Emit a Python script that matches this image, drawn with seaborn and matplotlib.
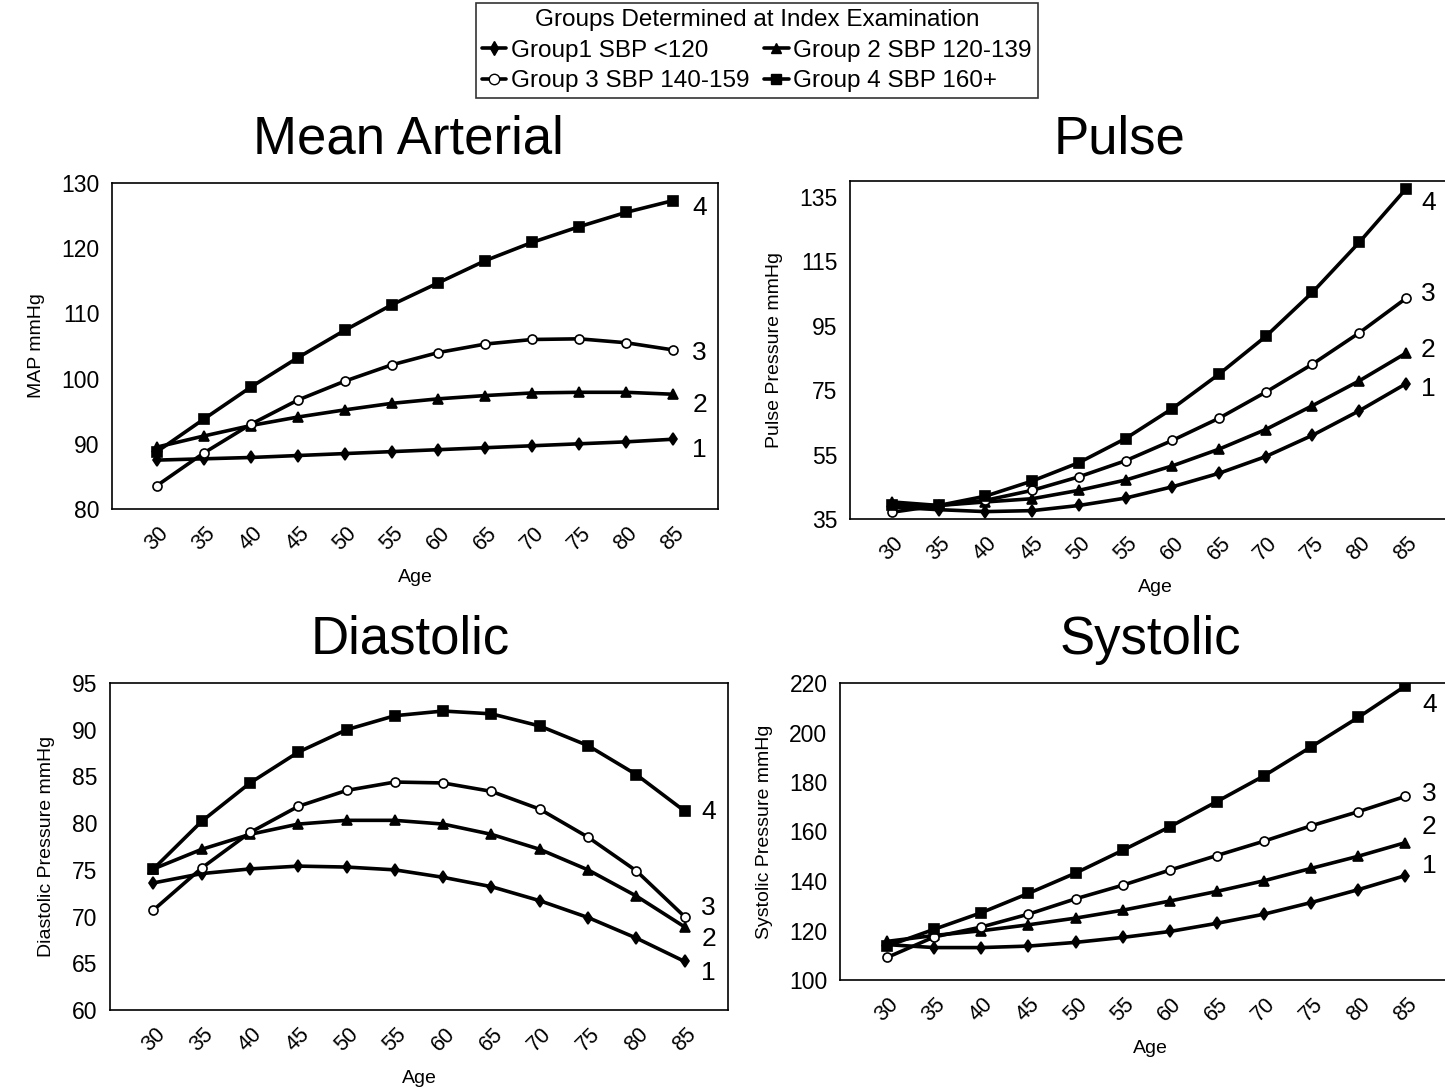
import matplotlib
matplotlib.use("Agg")
import matplotlib.pyplot as plt
import seaborn as sns
import pandas as pd
from matplotlib.lines import Line2D

sns.set_theme(style="white")
plt.rcParams['font.family'] = ['Liberation Sans', 'DejaVu Sans']
plt.rcParams.update({"text.color": "black", "axes.labelcolor": "black",
                     "xtick.color": "black", "ytick.color": "black"})

ages = [30, 35, 40, 45, 50, 55, 60, 65, 70, 75, 80, 85]
groups = ["1", "2", "3", "4"]
legend_labels = ["Group1 SBP <120", "Group 2 SBP 120-139",
                 "Group 3 SBP 140-159", "Group 4 SBP 160+"]

map_g1 = [87.5, 87.7, 87.9, 88.2, 88.5, 88.8, 89.1, 89.4, 89.7, 90.0, 90.3, 90.7]
map_g2 = [89.5, 91.2, 92.8, 94.1, 95.2, 96.2, 96.9, 97.4, 97.8, 97.9, 97.9, 97.6]
map_g3 = [83.6, 88.6, 93.0, 96.7, 99.6, 102.1, 104.0, 105.3, 106.0, 106.1, 105.5, 104.4]
map_g4 = [88.8, 93.8, 98.7, 103.2, 107.4, 111.3, 114.7, 118.1, 120.9, 123.3, 125.5, 127.3]

pp_g1 = [38.7, 37.9, 37.3, 37.6, 39.2, 41.5, 45.0, 49.2, 54.4, 61.0, 68.6, 77.0]
pp_g2 = [40.3, 39.2, 40.3, 41.3, 43.9, 47.1, 51.5, 56.7, 62.8, 70.2, 77.9, 86.5]
pp_g3 = [37.1, 39.2, 40.8, 43.9, 48.1, 53.1, 59.4, 66.3, 74.4, 83.1, 92.8, 103.5]
pp_g4 = [39.2, 39.2, 42.1, 46.8, 52.5, 60.0, 69.3, 80.0, 91.7, 105.4, 120.9, 137.5]

dbp_g1 = [73.6, 74.6, 75.1, 75.4, 75.3, 75.0, 74.2, 73.2, 71.7, 69.9, 67.7, 65.2]
dbp_g2 = [75.1, 77.2, 78.8, 79.9, 80.3, 80.3, 79.9, 78.8, 77.2, 75.0, 72.2, 68.9]
dbp_g3 = [70.7, 75.2, 79.0, 81.8, 83.5, 84.4, 84.3, 83.4, 81.5, 78.5, 74.9, 70.0]
dbp_g4 = [75.1, 80.2, 84.3, 87.6, 90.0, 91.5, 92.0, 91.7, 90.4, 88.3, 85.2, 81.3]

sbp_g1 = [114.3, 113.1, 113.1, 113.7, 115.2, 117.2, 119.6, 122.9, 126.6, 131.3, 136.5, 142.2]
sbp_g2 = [115.6, 118.0, 119.9, 122.3, 125.0, 128.2, 131.9, 135.8, 140.1, 145.1, 150.0, 155.5]
sbp_g3 = [109.1, 117.4, 121.4, 126.6, 132.8, 138.3, 144.4, 150.3, 156.1, 162.3, 168.0, 174.2]
sbp_g4 = [113.7, 120.5, 127.2, 135.0, 143.2, 152.4, 161.9, 172.1, 182.5, 194.2, 206.1, 218.8]

markers = {"1": "d", "2": "^", "3": "o", "4": "s"}
msizes = {"1": 6, "2": 6.5, "3": 6.5, "4": 6.5}
faces = {"1": "black", "2": "black", "3": "white", "4": "black"}

W, H = 1445, 1088
fig = plt.figure(figsize=(W / 100, H / 100), dpi=100)


def box(l, t, r, b):
    return [l / W, 1 - b / H, (r - l) / W, (b - t) / H]


panels = [
    dict(title="Mean Arterial", series=[map_g1, map_g2, map_g3, map_g4],
         rect=box(112, 183, 718, 509), ylim=(80, 130), yticks=[80, 90, 100, 110, 120, 130],
         ylabel="MAP mmHg", tx=408, ty=140, xlim=(25.2, 89.8), frame_right=True,
         loff=[-8, -8, -2, -5], lx=14),
    dict(title="Pulse", series=[pp_g1, pp_g2, pp_g3, pp_g4],
         rect=box(850, 181, 1460, 519), ylim=(35, 140), yticks=[35, 55, 75, 95, 115, 135],
         ylabel="Pulse Pressure mmHg", tx=1120, ty=140, xlim=(25.5, 90.8), frame_right=False,
         loff=[-4, 2, 3, -10], lx=11),
    dict(title="Diastolic", series=[dbp_g1, dbp_g2, dbp_g3, dbp_g4],
         rect=box(110, 683, 728, 1010), ylim=(60, 95), yticks=[60, 65, 70, 75, 80, 85, 90, 95],
         ylabel="Diastolic Pressure mmHg", tx=410, ty=640, xlim=(25.5, 89.5), frame_right=True,
         loff=[-8, -9, 6, -1], lx=12),
    dict(title="Systolic", series=[sbp_g1, sbp_g2, sbp_g3, sbp_g4],
         rect=box(840, 683, 1460, 980), ylim=(100, 220), yticks=[100, 120, 140, 160, 180, 200, 220],
         ylabel="Systolic Pressure mmHg", tx=1150, ty=640, xlim=(25.0, 90.8), frame_right=False,
         loff=[7, 11, 2, -14], lx=12),
]

for p in panels:
    ax = fig.add_axes(p["rect"])
    rows = []
    for g, vals in zip(groups, p["series"]):
        for a, v in zip(ages, vals):
            rows.append({"Age": a, "value": v, "group": g})
    df = pd.DataFrame(rows)
    for i, g in enumerate(groups):
        sub = df[df["group"] == g]
        sns.lineplot(data=sub, x="Age", y="value", ax=ax, color="black", lw=2.6,
                     marker=markers[g], markersize=msizes[g], markerfacecolor=faces[g],
                     markeredgecolor="black", markeredgewidth=1.2, legend=False)
        last = sub.iloc[-1]
        ax.annotate(g, (last["Age"], last["value"]), xytext=(p["lx"], p["loff"][i]),
                    textcoords="offset points", fontsize=19, va="center", ha="left",
                    annotation_clip=False)
    ax.set_xlim(*p["xlim"])
    ax.set_ylim(*p["ylim"])
    ax.set_yticks(p["yticks"])
    ax.set_xticks(ages)
    ax.set_xticklabels([str(a) for a in ages], rotation=45, ha="center", fontsize=15.5)
    ax.tick_params(axis="y", labelsize=16.5, length=0, pad=9)
    ax.tick_params(axis="x", length=0, pad=10)
    ax.set_ylabel(p["ylabel"], fontsize=14, labelpad=12)
    ax.set_xlabel("Age", fontsize=14, labelpad=10)
    for s in ax.spines.values():
        s.set_color("black")
        s.set_linewidth(1.2)
    ax.spines["right"].set_visible(p["frame_right"])
    fig.text(p["tx"] / W, 1 - p["ty"] / H, p["title"], fontsize=38,
             ha="center", va="center")

handles = [Line2D([], [], color="black", lw=2.6, marker=markers[g], markersize=msizes[g] + 1,
                  markerfacecolor=faces[g], markeredgecolor="black") for g in groups]
order = [0, 2, 1, 3]
leg = fig.legend([handles[i] for i in order], [legend_labels[i] for i in order],
                 loc="upper center", bbox_to_anchor=(757 / W, 1 - 3 / H), ncol=2,
                 title="Groups Determined at Index Examination", fontsize=17.5,
                 title_fontsize=17.5, frameon=True, fancybox=False, handlelength=1.0,
                 handletextpad=0.2, columnspacing=0.6, labelspacing=0.35,
                 borderpad=0.25, edgecolor="black", borderaxespad=0)
leg.get_frame().set_linewidth(1.2)

fig.savefig("out.png", dpi=100, facecolor="white")
